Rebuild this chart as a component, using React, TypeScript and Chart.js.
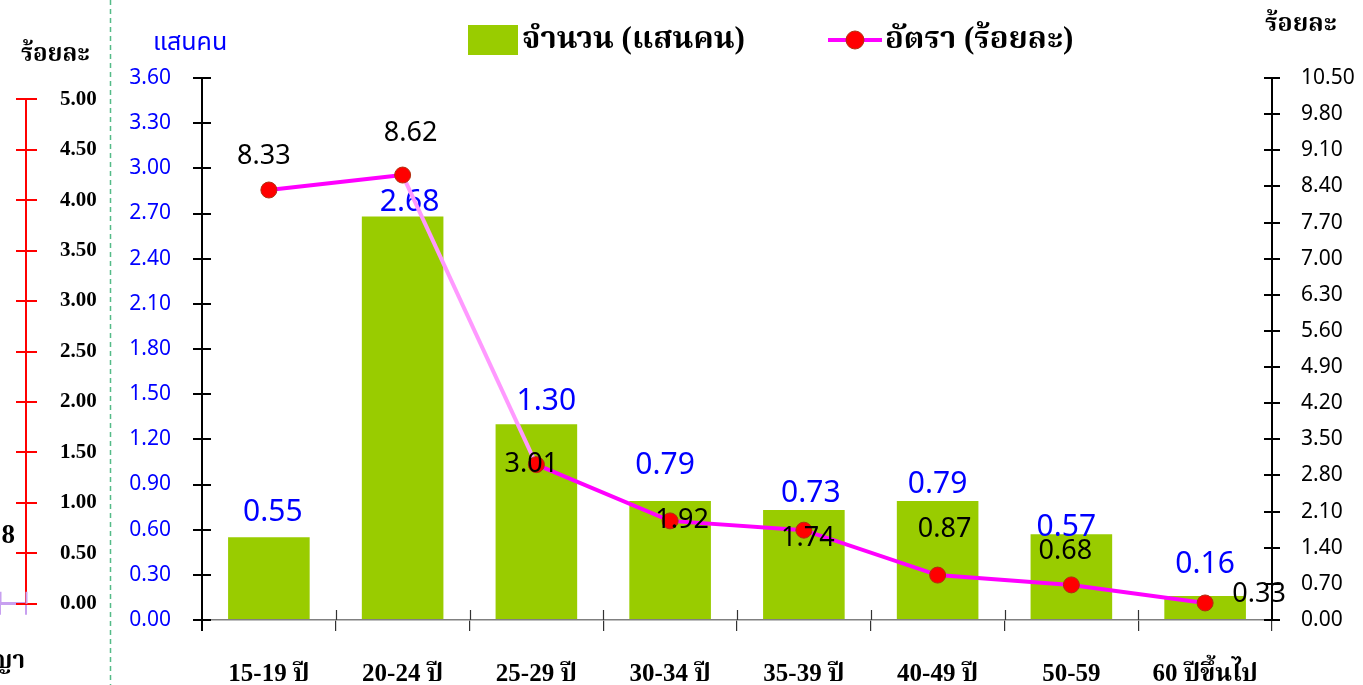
import React, { useEffect, useRef } from "react";
import { Chart, registerables } from "chart.js";

Chart.register(...registerables);

// ---------------- data ----------------
const categories = ["15-19 ปี", "20-24 ปี", "25-29 ปี", "30-34 ปี", "35-39 ปี", "40-49 ปี", "50-59", "60 ปีขึ้นไป"];
const countValues = [0.55, 2.68, 1.3, 0.79, 0.73, 0.79, 0.57, 0.16];
const rateValues = [8.33, 8.62, 3.01, 1.92, 1.74, 0.87, 0.68, 0.33];
const countTicks = [0, 0.3, 0.6, 0.9, 1.2, 1.5, 1.8, 2.1, 2.4, 2.7, 3.0, 3.3, 3.6];
const rateTicks = [0, 0.7, 1.4, 2.1, 2.8, 3.5, 4.2, 4.9, 5.6, 6.3, 7.0, 7.7, 8.4, 9.1, 9.8, 10.5];
const fragmentTicks = [0, 0.5, 1.0, 1.5, 2.0, 2.5, 3.0, 3.5, 4.0, 4.5, 5.0];
const countSeriesName = "จำนวน (แสนคน)";
const rateSeriesName = "อัตรา (ร้อยละ)";
const countUnit = "แสนคน";
const rateUnit = "ร้อยละ";
const fragmentUnit = "ร้อยละ";
const fragmentCategory = "ญา";
const fragmentValueText = "8";

// label nudges in pixels (layout only)
const countLabelOffsets = [[4, -25], [7, -14], [10, -23], [-5, -36], [7, -17], [0, -17], [-5, -7], [0, -31]];
const rateLabelOffsets = [[-5, -34], [8, -42], [-5, 0], [12, -1], [4, 8], [7, -46], [-6, -34], [54, -9]];

// ---------------- styles ----------------
const NUM_FONT = "'Noto Sans', 'DejaVu Sans', sans-serif";
const SERIF = "'Liberation Serif', 'Noto Serif Thai', 'Noto Sans Thai', serif";
const THAI_SANS = "'Noto Sans', 'Noto Sans Thai', sans-serif";
const BAR_COLOR = "#99cc00";
const LINE_COLOR = "#ff00ff";
const LINE_LIGHT = "#ff99ff";
const POINT_COLOR = "#ff0000";

const W = 1363;
const H = 685;

// draws the inner half of axis ticks so they cross the axis line
const crossTicksPlugin = {
  id: "crossTicks",
  afterDatasetsDraw(chart: any, _args: any, opts: any) {
    const ctx = chart.ctx;
    const cfgs = (opts && opts.scales) || {};
    Object.keys(cfgs).forEach((id) => {
      const cfg = cfgs[id];
      const scale = chart.scales[id];
      if (!scale) return;
      ctx.save();
      ctx.strokeStyle = cfg.color;
      ctx.lineWidth = cfg.width;
      ctx.beginPath();
      if (scale.isHorizontal()) {
        const n = scale.ticks.length;
        const from = cfg.skipEnds ? 1 : 0;
        const to = cfg.skipEnds ? n - 1 : n;
        for (let i = from; i <= to; i++) {
          const x = Math.round(scale.getPixelForValue(i - 0.5)) + 0.5;
          ctx.moveTo(x, scale.top);
          ctx.lineTo(x, scale.top - cfg.length);
        }
      } else {
        const left = scale.position === "left";
        const x = left ? scale.right : scale.left;
        scale.ticks.forEach((_t: any, i: number) => {
          const y = Math.round(scale.getPixelForTick(i));
          ctx.moveTo(x, y);
          ctx.lineTo(left ? x + cfg.length : x - cfg.length, y);
        });
      }
      ctx.stroke();
      ctx.restore();
    });
  },
};

// value labels for each dataset
const valueLabelsPlugin = {
  id: "valueLabels",
  afterDatasetDraw(chart: any, args: any, opts: any) {
    const cfg = opts && opts.sets && opts.sets[args.index];
    if (!cfg) return;
    const ctx = chart.ctx;
    const meta = chart.getDatasetMeta(args.index);
    const data = chart.data.datasets[args.index].data;
    ctx.save();
    ctx.font = cfg.font;
    ctx.fillStyle = cfg.color;
    ctx.textAlign = "center";
    ctx.textBaseline = "middle";
    meta.data.forEach((el: any, i: number) => {
      const off = cfg.offsets[i] || [0, 0];
      ctx.fillText(Number(data[i]).toFixed(2), el.x + off[0], el.y + off[1]);
    });
    ctx.restore();
  },
};

// legend + decorations for the main chart
const mainDecorPlugin = {
  id: "mainDecor",
  beforeDraw(chart: any) {
    const ctx = chart.ctx;
    ctx.save();
    ctx.strokeStyle = "#55bb88";
    ctx.lineWidth = 1.5;
    ctx.setLineDash([5, 4]);
    ctx.beginPath();
    ctx.moveTo(110.5, 0);
    ctx.lineTo(110.5, H);
    ctx.stroke();
    ctx.restore();
  },
  afterDraw(chart: any) {
    const ctx = chart.ctx;
    const ds = chart.data.datasets;
    const bar = ds.find((d: any) => d.type === "bar");
    const line = ds.find((d: any) => d.type === "line");
    ctx.save();
    ctx.textBaseline = "middle";
    ctx.textAlign = "left";
    const ly = 40;
    // bar legend
    ctx.fillStyle = bar.backgroundColor;
    ctx.fillRect(468, 25, 50, 30);
    ctx.fillStyle = "#000";
    ctx.font = `bold 31px ${SERIF}`;
    ctx.fillText(bar.label, 522, ly);
    // line legend
    ctx.strokeStyle = line.borderColor;
    ctx.lineWidth = 4;
    ctx.beginPath();
    ctx.moveTo(828, ly);
    ctx.lineTo(882, ly);
    ctx.stroke();
    ctx.beginPath();
    ctx.fillStyle = line.pointBackgroundColor;
    ctx.strokeStyle = line.pointBorderColor;
    ctx.lineWidth = 1;
    ctx.arc(855, ly, 9, 0, Math.PI * 2);
    ctx.fill();
    ctx.stroke();
    ctx.fillStyle = "#000";
    ctx.fillText(line.label, 885, ly);
    // axis units
    ctx.font = `25px ${THAI_SANS}`;
    ctx.fillStyle = "#0000ff";
    ctx.fillText(countUnit, 153, 43);
    ctx.font = `bold 25px ${SERIF}`;
    ctx.fillStyle = "#000";
    ctx.fillText(rateUnit, 1265, 25);
    ctx.restore();
  },
};

const fragmentDecorPlugin = {
  id: "fragmentDecor",
  afterDraw(chart: any) {
    const ctx = chart.ctx;
    ctx.save();
    ctx.fillStyle = "#000";
    ctx.textBaseline = "middle";
    ctx.font = `bold 24px ${SERIF}`;
    ctx.textAlign = "left";
    ctx.fillText(fragmentUnit, 21, 55);
    ctx.textAlign = "right";
    ctx.fillText(fragmentCategory, 25, 662);
    ctx.font = `bold 27px ${SERIF}`;
    ctx.fillText(fragmentValueText, 15, 536);
    ctx.restore();
  },
};

export default function App() {
  const mainRef = useRef<HTMLCanvasElement | null>(null);
  const fragRef = useRef<HTMLCanvasElement | null>(null);

  useEffect(() => {
    const nCat = categories.length;
    const main = new Chart(mainRef.current as HTMLCanvasElement, {
      type: "bar",
      data: {
        labels: categories,
        datasets: [
          {
            type: "line",
            label: rateSeriesName,
            data: rateValues,
            yAxisID: "y1",
            order: 0,
            borderColor: LINE_COLOR,
            borderWidth: 4,
            segment: {
              borderColor: (c: any) => (c.p0DataIndex === 1 ? LINE_LIGHT : LINE_COLOR),
            },
            pointRadius: 8,
            pointHoverRadius: 8,
            pointBackgroundColor: POINT_COLOR,
            pointBorderColor: "#b03010",
            pointBorderWidth: 1,
            tension: 0,
            fill: false,
          } as any,
          {
            type: "bar",
            label: countSeriesName,
            data: countValues,
            yAxisID: "y",
            order: 1,
            backgroundColor: BAR_COLOR,
            barPercentage: 0.61,
            categoryPercentage: 1,
          } as any,
        ],
      },
      options: {
        responsive: false,
        animation: false,
        devicePixelRatio: 1,
        layout: { padding: { left: 112, right: 0, top: 78, bottom: 0 } },
        plugins: {
          legend: { display: false },
          tooltip: { enabled: false },
          crossTicks: {
            scales: {
              y: { color: "#000", width: 2, length: 9 },
              y1: { color: "#000", width: 2, length: 8 },
              x: { color: "#333", width: 1.2, length: 10, skipEnds: true },
            },
          },
          valueLabels: {
            sets: {
              0: { font: `27px ${NUM_FONT}`, color: "#000", offsets: rateLabelOffsets },
              1: { font: `30px ${NUM_FONT}`, color: "#0000ff", offsets: countLabelOffsets },
            },
          },
        } as any,
        scales: {
          x: {
            type: "category",
            offset: true,
            grid: {
              offset: true,
              drawOnChartArea: false,
              tickLength: 11,
              color: (c: any) => (c.index === 0 || c.index >= nCat ? "#000" : "#333"),
              lineWidth: (c: any) => (c.index === 0 || c.index >= nCat ? 2 : 1.2),
            },
            border: { color: "#808080", width: 1.5 },
            ticks: {
              color: "#000",
              font: { family: SERIF, weight: "bold", size: 25 },
              padding: 29,
              maxRotation: 0,
              autoSkip: false,
            },
            afterFit: (s: any) => {
              s.height = H - 620;
            },
          },
          y: {
            position: "left",
            min: 0,
            max: 3.6,
            afterBuildTicks: (s: any) => {
              s.ticks = countTicks.map((v) => ({ value: v }));
            },
            ticks: {
              color: "#0000ff",
              font: { family: NUM_FONT, size: 21 },
              padding: 22,
              callback: (v: any) => Number(v).toFixed(2),
            },
            grid: { drawOnChartArea: false, tickLength: 9, color: "#000", lineWidth: 2 },
            border: { color: "#000", width: 2 },
            afterFit: (s: any) => {
              s.width = 90;
            },
          },
          y1: {
            position: "right",
            min: 0,
            max: 10.5,
            afterBuildTicks: (s: any) => {
              s.ticks = rateTicks.map((v) => ({ value: v }));
            },
            ticks: {
              color: "#000",
              font: { family: NUM_FONT, size: 21 },
              padding: 21,
              callback: (v: any) => Number(v).toFixed(2),
            },
            grid: { drawOnChartArea: false, tickLength: 8, color: "#000", lineWidth: 2 },
            border: { color: "#000", width: 2 },
            afterFit: (s: any) => {
              s.width = W - 1272;
            },
          },
        } as any,
      },
      plugins: [crossTicksPlugin, valueLabelsPlugin, mainDecorPlugin],
    });

    const frag = new Chart(fragRef.current as HTMLCanvasElement, {
      type: "line",
      data: { labels: [fragmentCategory], datasets: [] },
      options: {
        responsive: false,
        animation: false,
        devicePixelRatio: 1,
        layout: { padding: { left: 0, right: 0, top: 99.3, bottom: 0 } },
        plugins: {
          legend: { display: false },
          tooltip: { enabled: false },
          crossTicks: {
            scales: {
              y: { color: "#ff0000", width: 2, length: 10 },
              x: { color: "#c8a0f0", width: 2, length: 12 },
            },
          },
        } as any,
        scales: {
          x: {
            type: "category",
            offset: true,
            grid: { offset: true, drawOnChartArea: false, tickLength: 11, color: "#c8a0f0", lineWidth: 2 },
            border: { color: "#c8a0f0", width: 3 },
            ticks: { display: false },
            afterFit: (s: any) => {
              s.height = H - 603.7;
            },
          },
          y: {
            position: "right",
            min: 0,
            max: 5,
            afterBuildTicks: (s: any) => {
              s.ticks = fragmentTicks.map((v) => ({ value: v }));
            },
            ticks: {
              color: "#000",
              font: { family: SERIF, weight: "bold", size: 21 },
              padding: 23,
              callback: (v: any) => Number(v).toFixed(2),
            },
            grid: { drawOnChartArea: false, tickLength: 11, color: "#ff0000", lineWidth: 2 },
            border: { color: "#ff0000", width: 2 },
            afterFit: (s: any) => {
              s.width = 94;
            },
          },
        } as any,
      },
      plugins: [crossTicksPlugin, fragmentDecorPlugin],
    });

    return () => {
      main.destroy();
      frag.destroy();
    };
  }, []);

  return (
    <div style={{ position: "absolute", left: 0, top: 0, width: W, height: H, background: "#fff", overflow: "hidden" }}>
      <canvas ref={mainRef} width={W} height={H} style={{ position: "absolute", left: 0, top: 0, display: "block" }} />
      <canvas ref={fragRef} width={120} height={H} style={{ position: "absolute", left: 0, top: 0, display: "block" }} />
    </div>
  );
}
